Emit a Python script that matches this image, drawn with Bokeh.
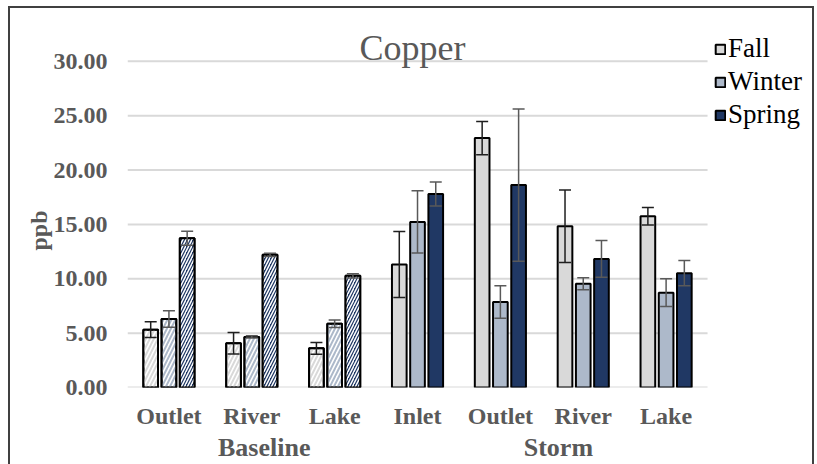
from bokeh.plotting import figure
from bokeh.models import (ColumnDataSource, Range1d, FixedTicker, LinearAxis,
                          PrintfTickFormatter, Whisker, TeeHead, Legend,
                          LegendItem, Label, Title, InlineStyleSheet)
from bokeh.embed import file_html
from bokeh.resources import INLINE

# Copper concentrations (ppb) by sampling event and site
events = ["Baseline", "Baseline", "Baseline", "Storm", "Storm", "Storm", "Storm"]
sites = ["Outlet", "River", "Lake", "Inlet", "Outlet", "River", "Lake"]

fall = [5.32, 4.07, 3.60, 11.31, 22.94, 14.83, 15.75]
fall_err = [0.72, 1.00, 0.55, 3.03, 1.53, 3.33, 0.80]
winter = [6.30, 4.65, 5.87, 15.23, 7.86, 9.54, 8.72]
winter_err = [0.75, 0.10, 0.35, 2.87, 1.50, 0.55, 1.28]
spring = [13.73, 12.20, 10.27, 17.80, 18.62, 11.83, 10.52]
spring_err = [0.65, 0.15, 0.20, 1.10, 7.00, 1.70, 1.16]

y_ticks = [0, 5, 10, 15, 20, 25, 30]
group_names = ["Baseline", "Storm"]
group_label_pos = [1.65, 5.20]

FONT = "Liberation Serif"
GREY = "#595959"
N = len(sites)
site_pos = [i + 0.5 for i in range(N)]

# outer chart border drawn around the figure element
border_css = InlineStyleSheet(css="""
:host { position: relative; }
:host::after {
  content: ""; position: absolute; left: 8px; top: 6px;
  width: 806px; height: 458px; box-sizing: border-box;
  border: 2px solid #404040; border-bottom: none; pointer-events: none;
}
""")

# the plotting frame reaches the top and right edges so the title and the
# legend can sit inside it; the category slots occupy x = 0..7
p = figure(width=817, height=464,
           x_range=Range1d(0, 8.327), y_range=Range1d(0, 35.596),
           output_backend="svg", toolbar_location=None,
           min_border_left=127, min_border_right=0,
           min_border_top=0, min_border_bottom=76,
           outline_line_color=None, background_fill_color="white",
           border_fill_color="white", stylesheets=[border_css])
p.grid.visible = False

# horizontal gridlines across the category slots only
p.segment(x0=0, x1=N, y0=y_ticks, y1=y_ticks, line_color="#d9d9d9",
          line_width=2)

# y axis: two-decimal labels, no axis line or ticks
p.yaxis.ticker = FixedTicker(ticks=y_ticks)
p.yaxis.formatter = PrintfTickFormatter(format="%.2f")
p.yaxis.major_label_text_font = FONT
p.yaxis.major_label_text_font_style = "bold"
p.yaxis.major_label_text_font_size = "24px"
p.yaxis.major_label_text_color = GREY
p.yaxis.major_label_standoff = 20
p.yaxis.axis_line_color = None
p.yaxis.major_tick_line_color = None
p.yaxis.minor_tick_line_color = None
p.yaxis.major_tick_out = 0
p.yaxis.major_tick_in = 0

# unit label to the left of the value labels, beside the middle of the scale
p.add_layout(Title(text="ppb", align="left", offset=137, standoff=-3,
                   text_font=FONT, text_font_size="24px",
                   text_font_style="bold", text_color=GREY), "left")


def style_x(ax, size, standoff):
    ax.major_label_text_font = FONT
    ax.major_label_text_font_style = "bold"
    ax.major_label_text_font_size = size
    ax.major_label_text_color = GREY
    ax.major_label_standoff = standoff
    ax.axis_line_color = None
    ax.major_tick_line_color = None
    ax.minor_tick_line_color = None
    ax.major_tick_out = 0
    ax.major_tick_in = 0


# site names
xa = p.xaxis[0]
xa.ticker = FixedTicker(ticks=site_pos)
xa.major_label_overrides = {pos: s for pos, s in zip(site_pos, sites)}
style_x(xa, "24px", 15)

# event names beneath the site names
ga = LinearAxis(ticker=FixedTicker(ticks=group_label_pos),
                major_label_overrides={pos: g for pos, g in
                                       zip(group_label_pos, group_names)})
style_x(ga, "26px", 1)
p.add_layout(ga, "below")

seasons = [
    ("Fall", fall, fall_err, "#d9d9d9", "white", "#d9d9d9", 8, 2, "#1f1f1f", -0.22),
    ("Winter", winter, winter_err, "#adb9ca", "white", "#adb9ca", 8, 2, GREY, 0.0),
    ("Spring", spring, spring_err, "#203864", "#203864", "white", 6, 1.5, GREY, 0.22),
]

BAR_W = 0.177
renderers = []
for name, vals, errs, color, base_fill, hcolor, hscale, hweight, ecolor, off in seasons:
    xs = [pos + off for pos in site_pos]
    src = ColumnDataSource(dict(
        x=xs,
        top=vals,
        upper=[v + e for v, e in zip(vals, errs)],
        lower=[v - e for v, e in zip(vals, errs)],
        fill=[base_fill if ev == "Baseline" else color for ev in events],
    ))
    r = p.vbar(x="x", top="top", bottom=0, width=BAR_W, source=src,
               fill_color="fill", line_color="black", line_width=2)
    renderers.append((name, r))

    # striped overlay for the baseline samples
    base_idx = [i for i, ev in enumerate(events) if ev == "Baseline"]
    bsrc = ColumnDataSource(dict(x=[xs[i] for i in base_idx],
                                 top=[vals[i] for i in base_idx]))
    p.vbar(x="x", top="top", bottom=0, width=BAR_W, source=bsrc,
           fill_color=None, line_color=None, hatch_pattern="/",
           hatch_color=hcolor, hatch_scale=hscale, hatch_weight=hweight)
    p.vbar(x="x", top="top", bottom=0, width=BAR_W, source=bsrc,
           fill_color=None, line_color="black", line_width=2)

    w = Whisker(base="x", upper="upper", lower="lower", source=src,
                line_color=ecolor, line_width=1.5,
                upper_head=TeeHead(size=12, line_color=ecolor, line_width=1.5),
                lower_head=TeeHead(size=12, line_color=ecolor, line_width=1.5),
                level="annotation")
    p.add_layout(w)

legend = Legend(
    items=[LegendItem(label=n, renderers=[r], index=3) for n, r in renderers],
    location=(587, 257), glyph_width=12, glyph_height=12,
    label_text_font=FONT, label_text_font_size="27px",
    label_text_color="black", label_standoff=2, label_height=30,
    spacing=2, padding=0, margin=0, border_line_color=None,
    background_fill_alpha=0)
p.add_layout(legend)

# chart title
p.add_layout(Label(x=3.44, y=31.2, text="Copper", text_font=FONT,
                   text_font_size="36px", text_color=GREY,
                   text_align="center", text_baseline="middle"))

open("out.html", "w").write(file_html(p, INLINE))
